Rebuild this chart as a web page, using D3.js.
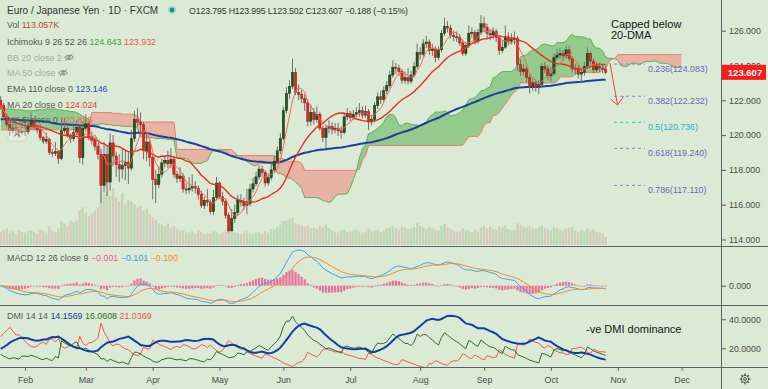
<!DOCTYPE html>
<html>
<head>
<meta charset="utf-8">
<script src="https://cdn.jsdelivr.net/npm/d3@7"></script>
<style>
  body { margin: 0; background: #dbead5; }
  svg { display: block; font-family: "Liberation Sans", Arial, sans-serif; }
  .axis path { display: none; }
  .axis line { stroke: #555; }
  .axis text { fill: #4a4a4a; font-size: 8.8px; font-family: "Liberation Sans", Arial, sans-serif; }
</style>
</head>
<body>
<svg id="chart" width="768" height="389"></svg>
<script>
// EUR/JPY daily, FXCM, 22 Jan 2020 .. 27 Oct 2020 (one value per trading day)
const firstOpen = 122.00;
const closes = [
  121.70,121.05,120.60,120.25,120.40,120.30,120.15,120.25,120.20,120.50,
  120.85,120.45,120.30,119.85,119.65,119.75,119.00,118.95,119.05,118.65,
  120.25,120.40,120.00,119.80,120.15,120.45,118.70,120.40,120.65,119.90,
  119.70,119.35,118.90,117.10,118.90,117.30,119.55,118.80,118.30,118.05,
  118.25,118.45,118.10,119.80,120.90,120.75,120.60,119.10,119.60,118.70,
  117.45,117.15,117.75,118.40,118.55,118.35,118.60,117.75,117.50,117.65,
  116.90,116.85,116.95,117.05,116.95,116.60,115.95,116.25,116.15,115.60,
  116.40,117.25,116.45,116.20,115.40,114.50,115.20,115.55,116.25,116.15,
  115.95,116.05,116.90,117.20,117.60,118.05,117.85,117.25,117.55,118.00,
  118.50,119.10,119.80,121.40,122.40,122.80,123.60,122.45,122.35,122.10,
  121.85,120.80,121.30,120.90,121.20,120.40,119.85,120.40,120.50,120.30,
  120.40,120.25,120.15,121.05,121.25,121.00,121.20,121.30,121.40,121.15,
  121.35,120.75,120.90,121.70,122.20,122.05,122.55,122.85,123.45,123.90,
  123.85,123.65,123.15,123.30,123.10,123.45,123.95,124.75,124.65,125.25,
  125.35,124.85,124.95,124.45,124.90,125.85,126.25,126.15,125.75,125.65,
  125.60,125.30,124.70,125.15,125.85,125.90,125.40,125.90,126.40,126.20,
  125.85,125.75,125.95,125.60,124.85,125.05,125.65,125.40,125.50,125.55,
  124.05,123.65,123.80,123.30,122.80,123.00,122.80,122.90,123.95,123.80,
  123.40,123.55,124.45,124.60,124.70,124.55,124.90,124.40,123.80,123.85,
  123.50,123.60,123.95,124.70,124.25,123.75,123.95,123.85,123.80,123.607
];
const highs = [
  122.25,121.85,121.20,120.75,120.95,121.05,120.45,120.80,120.95,121.05,
  121.30,120.95,120.60,120.65,119.95,120.15,119.85,119.20,119.60,119.15,
  120.95,121.00,120.50,120.10,120.55,120.85,120.55,120.80,121.20,120.80,
  120.20,119.90,119.50,119.20,119.60,119.40,120.10,120.00,119.05,118.90,
  119.20,119.10,119.00,120.30,121.40,121.55,121.30,120.75,120.20,119.75,
  118.85,118.00,118.20,118.65,118.85,119.10,119.25,118.80,117.95,118.15,
  117.80,117.25,117.60,117.75,117.35,117.10,116.80,116.45,116.90,116.30,
  116.85,117.60,117.35,116.75,116.35,115.55,115.75,116.00,116.55,116.60,
  116.40,116.90,117.20,117.55,117.90,118.30,118.25,118.00,117.80,118.35,
  118.80,119.35,120.10,121.65,122.75,123.15,124.40,123.85,122.90,122.60,
  122.35,122.05,121.75,121.55,121.65,121.35,120.55,120.60,120.85,120.75,
  120.70,120.70,120.50,121.30,121.55,121.40,121.45,121.60,121.85,121.65,
  121.70,121.50,121.15,121.90,122.45,122.55,122.80,123.10,123.70,124.30,
  124.15,124.05,123.80,123.65,123.85,123.70,124.20,125.25,125.05,125.50,
  125.70,125.50,125.25,125.10,125.10,126.05,126.75,126.55,126.35,126.00,
  125.95,125.80,125.50,125.35,126.30,126.20,126.05,126.10,126.90,126.80,
  126.40,126.10,126.20,126.10,125.75,125.45,126.30,125.90,125.85,125.95,
  125.70,124.35,124.10,124.00,123.50,123.25,123.20,123.15,124.15,124.20,
  124.00,123.90,124.70,124.95,125.00,124.90,125.15,125.15,124.55,124.10,
  124.05,123.85,124.20,125.05,124.80,124.40,124.20,124.15,124.05,123.995
];
const lows = [
  121.45,120.90,120.45,119.95,120.10,120.05,119.85,120.00,119.95,120.05,
  120.40,120.30,120.10,119.70,119.50,119.50,118.85,118.75,118.80,118.35,
  118.55,120.10,119.85,119.55,119.65,120.00,118.40,118.30,120.20,119.70,
  119.45,119.10,118.60,116.10,116.70,116.50,116.80,118.20,117.60,117.30,
  117.50,117.40,117.20,117.95,119.60,120.45,120.00,118.60,118.50,118.20,
  116.30,116.10,116.95,117.55,118.15,118.10,118.10,117.55,117.25,117.30,
  116.70,116.60,116.65,116.75,116.65,116.30,115.80,115.75,115.90,115.45,
  115.40,116.25,116.30,115.95,115.20,114.40,114.45,114.95,115.40,115.90,
  115.70,115.45,115.90,116.70,117.05,117.45,117.60,117.05,117.10,117.40,
  117.85,118.35,118.90,119.70,121.25,122.10,122.65,122.30,122.00,121.85,
  121.40,120.50,120.55,120.60,120.70,120.25,119.60,119.25,120.10,120.05,
  120.10,119.95,119.80,120.05,120.85,120.80,120.85,121.00,121.05,120.95,
  121.00,120.30,120.55,120.75,121.50,121.80,121.90,122.35,122.70,123.30,
  123.50,123.40,122.95,122.95,122.90,122.95,123.30,123.80,124.35,124.50,
  125.00,124.60,124.55,124.20,124.30,124.75,125.70,125.90,125.55,125.40,
  125.35,125.10,124.55,124.55,125.00,125.60,125.20,125.25,125.75,125.95,
  125.50,125.45,125.50,125.35,124.60,124.70,124.95,125.15,125.20,125.20,
  123.70,123.40,123.45,123.05,122.40,122.55,122.50,122.35,122.75,123.55,
  123.15,123.10,123.40,124.30,124.35,124.25,124.40,124.25,123.60,123.50,
  123.25,123.05,123.40,123.80,124.05,123.55,123.60,123.65,123.55,123.502
];
// volume, thousands
const vols = [
  180,210,230,170,190,160,200,180,170,190, 200,180,160,210,190,170,260,200,180,230,
  330,300,260,340,310,330,480,520,450,400, 430,470,520,760,700,740,680,780,650,600,
  720,560,620,600,560,520,540,480,500,420, 380,350,300,280,260,300,240,260,220,200,
  210,180,170,190,160,200,180,150,170,160, 190,180,150,170,200,230,190,170,160,150,
  170,190,160,150,170,180,160,200,170,220, 210,250,280,330,340,360,380,300,280,260,
  250,270,230,240,220,260,240,280,230,200, 180,170,200,210,180,190,200,210,190,170,
  180,220,190,200,210,180,200,230,240,260, 230,210,250,240,220,230,250,300,260,240,
  220,250,230,210,200,260,290,250,220,200, 180,190,230,210,200,180,220,190,240,260,
  230,250,220,210,260,240,270,220,200,210, 300,280,250,240,260,230,220,250,270,240,
  220,200,250,230,210,200,220,240,250,200, 180,210,190,230,200,220,180,170,160,113.057
];
// leading cloud for the first bars, whose 52-day window reaches before the data
const kumoHeadA = [
  121.55,121.55,121.5,121.5,121.5,121.45,121.45,121.45,121.4,121.4,121.4,121.4,121.45,121.45,
  121.45,121.5,121.5,121.5,121.5,121.45,121.45,121.4,121.4,121.35,121.35,121.3,
  121.2,121.1,121.0,120.9,
  120.6,120.6,120.6,120.65,120.65,120.6,120.6,120.55,120.55,120.55,120.5,120.5,120.5,120.5,120.45,120.4,
  119.9,119.9,119.85,119.85,119.85,119.8,119.8,119.8,119.8,119.75,119.75,119.7
];
const kumoHeadB = [
  120.3,120.3,120.3,120.3,120.3,120.3,120.3,120.3,120.3,120.3,120.3,120.3,120.3,120.3,
  120.3,120.3,120.3,120.3,120.3,120.3,120.3,120.3,120.3,120.3,120.3,120.3,
  120.3,120.35,120.4,120.5,
  121.3,121.3,121.3,121.3,121.3,121.3,121.3,121.25,121.25,121.25,121.2,121.2,121.2,121.2,121.15,121.1,
  120.75,120.75,120.75,120.75,120.75,120.75,120.75,120.75,120.75,120.75,120.75,120.75
];
const ema110Seed = 120.9;
const adxSeed = 19;
const plusDISeed = 17;
const minusDISeed = 30;

const priceTicks = [114, 116, 118, 120, 122, 124, 126];
const fibLevels = [
  { r: '0.236', p: 124.083, c: '#8a7fcf', t: '#6f63bd' },
  { r: '0.382', p: 122.232, c: '#8a7fcf', t: '#6f63bd' },
  { r: '0.5',   p: 120.736, c: '#2cc4d8', t: '#1fb3c8' },
  { r: '0.618', p: 119.240, c: '#8a7fcf', t: '#6f63bd' },
  { r: '0.786', p: 117.110, c: '#8a7fcf', t: '#6f63bd' }
];

const N = closes.length;
const opens = closes.map((c, i) => i ? closes[i - 1] : firstOpen);
const idx = d3.range(N);

// trading days (weekdays) so month ticks land on the first bar of the month
const days = d3.timeDay.range(new Date(2020, 0, 22), new Date(2021, 0, 1)).filter(d => d.getDay() % 6 !== 0);
const fmtMonth = d3.timeFormat('%b');
const monthStarts = d3.range(1, days.length).filter(i => days[i].getMonth() !== days[i - 1].getMonth() && days[i] <= new Date(2020, 11, 2));

// ---- indicators
function sma(arr, n) { return arr.map((_, i) => d3.mean(arr.slice(Math.max(0, i - n + 1), i + 1))); }
function ema(arr, n, seed) { const a = 2 / (n + 1); let e = seed; return arr.map(v => (e = e + a * (v - e))); }
function rma(arr, n, seed) { let s = seed; return arr.map(v => (s = s + (v - s) / n)); }
function midHL(n, i) {
  const s = Math.max(0, i - n + 1);
  return (d3.max(highs.slice(s, i + 1)) + d3.min(lows.slice(s, i + 1))) / 2;
}
const ma5 = sma(closes, 5);
const ma20 = sma(closes, 20);
const ema110 = ema(closes, 110, ema110Seed);

const leadA = [], leadB = [];
for (let i = 0; i < N + 25; i++) {
  if (i < kumoHeadA.length) { leadA.push(kumoHeadA[i]); leadB.push(kumoHeadB[i]); continue; }
  const j = i - 25;
  leadA.push((midHL(9, j) + midHL(26, j)) / 2);
  leadB.push(midHL(52, j));
}
const kumoIdx = d3.range(leadA.length);

const ema12 = ema(closes, 12, closes[0]);
const ema26 = ema(closes, 26, closes[0]);
const macd = ema12.map((v, i) => v - ema26[i]);
const signal = ema(macd, 9, macd[0]);
const hist = macd.map((v, i) => v - signal[i]);

const trA = [], pdm = [], mdm = [];
for (let i = 0; i < N; i++) {
  if (i === 0) { trA.push(highs[0] - lows[0]); pdm.push(0); mdm.push(0); continue; }
  const up = highs[i] - highs[i - 1], dn = lows[i - 1] - lows[i];
  trA.push(Math.max(highs[i] - lows[i], Math.abs(highs[i] - closes[i - 1]), Math.abs(lows[i] - closes[i - 1])));
  pdm.push(up > dn && up > 0 ? up : 0);
  mdm.push(dn > up && dn > 0 ? dn : 0);
}
const trSeed = d3.mean(trA.slice(0, 14));
const trS = rma(trA, 14, trSeed);
const pS = rma(pdm, 14, trSeed * plusDISeed / 100);
const mS = rma(mdm, 14, trSeed * minusDISeed / 100);
const plusDI = pS.map((v, i) => 100 * v / trS[i]);
const minusDI = mS.map((v, i) => 100 * v / trS[i]);
const dx = plusDI.map((p, i) => 100 * Math.abs(p - minusDI[i]) / ((p + minusDI[i]) || 1));
const adx = rma(dx, 14, adxSeed);

// ---- layout
const W = 768, H = 389, plotR = 722;
const paneMain = { top: 0, bottom: 246 };
const paneMacd = { top: 247, bottom: 305 };
const paneDmi = { top: 306, bottom: 367 };

const x = d3.scaleLinear().domain([0, 1]).range([0.68, 3.72]);
const y = d3.scaleLinear().domain([114, 126]).range([239.5, 30.7]);
const yVol = d3.scaleLinear().domain([0, 800]).range([245, 187]);
const macdMax = d3.max([...macd, ...signal]);
const yMacd = d3.scaleLinear().domain([0, macdMax]).range([285.7, 250]);
const yDmi = d3.scaleLinear().domain([20, 40]).range([348.3, 319.3]);

const svg = d3.select('#chart');
svg.append('rect').attr('width', W).attr('height', H).attr('fill', '#dbead5');

const defs = svg.append('defs');
function clip(id, y0, y1) {
  defs.append('clipPath').attr('id', id).append('rect').attr('x', 0).attr('y', y0).attr('width', plotR).attr('height', y1 - y0);
}
clip('cMain', paneMain.top, paneMain.bottom);
clip('cMacd', paneMacd.top, paneMacd.bottom);
clip('cDmi', paneDmi.top, paneDmi.bottom);
// cloud colouring: green where lead A is above lead B, red where below
defs.append('clipPath').attr('id', 'aboveB').append('path')
  .attr('d', d3.area().x(i => x(i)).y0(0).y1(i => y(leadB[i]))(kumoIdx));
defs.append('clipPath').attr('id', 'belowB').append('path')
  .attr('d', d3.area().x(i => x(i)).y0(paneMain.bottom).y1(i => y(leadB[i]))(kumoIdx));

const main = svg.append('g').attr('clip-path', 'url(#cMain)');

// volume
main.append('g').selectAll('rect').data(idx).join('rect')
  .attr('x', i => x(i) - 1.2).attr('width', 2.4)
  .attr('y', i => yVol(vols[i])).attr('height', i => yVol(0) - yVol(vols[i]))
  .attr('fill', i => closes[i] >= opens[i] ? '#bcd8b4' : '#d4cbbd');

// ichimoku cloud
const kumoArea = d3.area().x(i => x(i)).y0(i => y(leadB[i])).y1(i => y(leadA[i]));
const kumo = main.append('g');
kumo.append('g').attr('clip-path', 'url(#aboveB)').append('path').attr('d', kumoArea(kumoIdx)).attr('fill', '#93cb8d');
kumo.append('g').attr('clip-path', 'url(#belowB)').append('path').attr('d', kumoArea(kumoIdx)).attr('fill', '#e8b3a3');
kumo.append('path').attr('d', d3.line().x(i => x(i)).y(i => y(leadA[i]))(kumoIdx))
  .attr('fill', 'none').attr('stroke', '#5fae5a').attr('stroke-width', 1);
kumo.append('path').attr('d', d3.line().x(i => x(i)).y(i => y(leadB[i]))(kumoIdx))
  .attr('fill', 'none').attr('stroke', '#ec7a6c').attr('stroke-width', 1);

// EMA 110
main.append('path').attr('d', d3.line().x(i => x(i)).y(i => y(ema110[i]))(idx))
  .attr('fill', 'none').attr('stroke', '#1d3f9f').attr('stroke-width', 2);

// candles
const candles = main.append('g');
candles.selectAll('line').data(idx).join('line')
  .attr('x1', i => x(i)).attr('x2', i => x(i))
  .attr('y1', i => y(highs[i])).attr('y2', i => y(lows[i]))
  .attr('stroke', '#6f6f6f').attr('stroke-width', 1);
candles.selectAll('rect').data(idx).join('rect')
  .attr('x', i => x(i) - 1.15).attr('width', 2.3)
  .attr('y', i => y(Math.max(opens[i], closes[i])))
  .attr('height', i => Math.max(1, Math.abs(y(opens[i]) - y(closes[i]))))
  .attr('fill', i => closes[i] >= opens[i] ? '#24501c' : '#f51a12')
  .attr('stroke', i => closes[i] >= opens[i] ? '#1a3a14' : '#8c2a20')
  .attr('stroke-width', 0.5);

// MA 20 and MA 5
main.append('path').attr('d', d3.line().x(i => x(i)).y(i => y(ma20[i]))(idx))
  .attr('fill', 'none').attr('stroke', '#ee2a22').attr('stroke-width', 1.4);
main.append('path').attr('d', d3.line().x(i => x(i)).y(i => y(ma5[i]))(idx))
  .attr('fill', 'none').attr('stroke', '#f2685c').attr('stroke-width', 1);

// fibonacci levels
const fib = svg.append('g');
fibLevels.forEach(f => {
  fib.append('line').attr('x1', 614).attr('x2', 645).attr('y1', y(f.p)).attr('y2', y(f.p))
    .attr('stroke', f.c).attr('stroke-width', 1).attr('stroke-dasharray', '3,3');
  fib.append('text').attr('x', 648).attr('y', y(f.p) + 8).attr('font-size', 8.8).attr('fill', f.t)
    .text(`${f.r}(${f.p.toFixed(3)})`);
});

// arrow and notes
svg.append('path').attr('d', 'M610,63 L617.5,105 M610.5,99 L617.5,105 L623.5,96.5')
  .attr('fill', 'none').attr('stroke', '#f2463a').attr('stroke-width', 1);
const note = svg.append('text').attr('font-size', 11).attr('fill', '#151515');
note.append('tspan').attr('x', 611).attr('y', 28).text('Capped below');
note.append('tspan').attr('x', 611).attr('y', 38.5).text('20-DMA');
svg.append('text').attr('x', 586).attr('y', 333).attr('font-size', 11).attr('fill', '#151515').text('-ve DMI dominance');

// ---- MACD pane
const gMacd = svg.append('g').attr('clip-path', 'url(#cMacd)');
gMacd.selectAll('rect').data(idx).join('rect')
  .attr('x', i => x(i) - 1.1).attr('width', 2.2)
  .attr('y', i => Math.min(yMacd(0), yMacd(hist[i])))
  .attr('height', i => Math.max(0.8, Math.abs(yMacd(hist[i]) - yMacd(0))))
  .attr('fill', '#ee5a92').attr('opacity', 0.85);
gMacd.append('path').attr('d', d3.line().x(i => x(i)).y(i => yMacd(macd[i]))(idx))
  .attr('fill', 'none').attr('stroke', '#3aa2f2').attr('stroke-width', 1);
gMacd.append('path').attr('d', d3.line().x(i => x(i)).y(i => yMacd(signal[i]))(idx))
  .attr('fill', 'none').attr('stroke', '#f38a2a').attr('stroke-width', 1);

// ---- DMI pane
const gDmi = svg.append('g').attr('clip-path', 'url(#cDmi)');
[[minusDI, '#f0584c', 1], [plusDI, '#2f6b2b', 1], [adx, '#0f3fa6', 2]].forEach(([s, c, w]) => {
  gDmi.append('path').attr('d', d3.line().x(i => x(i)).y(i => yDmi(s[i]))(idx))
    .attr('fill', 'none').attr('stroke', c).attr('stroke-width', w);
});

// ---- frame
const frame = svg.append('g').attr('stroke', '#5e6166').attr('stroke-width', 1);
frame.append('line').attr('x1', 0).attr('x2', W).attr('y1', 246.5).attr('y2', 246.5);
frame.append('line').attr('x1', 0).attr('x2', W).attr('y1', 305.5).attr('y2', 305.5);
frame.append('line').attr('x1', 0).attr('x2', W).attr('y1', 367.5).attr('y2', 367.5);
frame.append('line').attr('x1', 721.5).attr('x2', 721.5).attr('y1', 0).attr('y2', H);

// ---- axes
svg.append('g').attr('class', 'axis').attr('transform', `translate(${plotR},0)`)
  .call(d3.axisRight(y).tickValues(priceTicks).tickSize(4).tickPadding(3).tickFormat(d3.format('.3f')));
svg.append('g').attr('class', 'axis').attr('transform', `translate(${plotR},0)`)
  .call(d3.axisRight(yMacd).tickValues([0]).tickSize(4).tickPadding(3).tickFormat(d3.format('.3f')));
svg.append('g').attr('class', 'axis').attr('transform', `translate(${plotR},0)`)
  .call(d3.axisRight(yDmi).tickValues([20, 40]).tickSize(4).tickPadding(3).tickFormat(d3.format('.4f')));
const xAxis = svg.append('g').attr('class', 'axis').attr('transform', 'translate(0,367.5)')
  .call(d3.axisBottom(x).tickValues(monthStarts).tickSize(3).tickPadding(6).tickFormat(i => fmtMonth(days[i])));
xAxis.selectAll('text').attr('font-size', 9).attr('fill', '#555');

// last price tag
svg.append('rect').attr('x', 722).attr('y', y(123.607) - 7.5).attr('width', 44).attr('height', 15).attr('fill', '#ff1a1a');
svg.append('text').attr('x', 745).attr('y', y(123.607) + 3.5).attr('text-anchor', 'middle')
  .attr('font-size', 9.5).attr('font-weight', 'bold').attr('fill', '#fff').text('123.607');

// gear icon
const gear = svg.append('g').attr('transform', 'translate(745,379)').attr('fill', 'none').attr('stroke', '#555').attr('stroke-width', 1);
gear.append('circle').attr('r', 3.6);
gear.append('circle').attr('r', 1.4);
d3.range(8).forEach(k => {
  const a = k * Math.PI / 4;
  gear.append('line').attr('x1', Math.cos(a) * 3.6).attr('y1', Math.sin(a) * 3.6)
    .attr('x2', Math.cos(a) * 5.4).attr('y2', Math.sin(a) * 5.4).attr('stroke-width', 1.3);
});

// ---- legends
function legend(yb, parts, size) {
  const t = svg.append('text').attr('x', 7).attr('y', yb).attr('font-size', size || 8.9);
  parts.forEach(([s, c]) => t.append('tspan').attr('fill', c).text(s));
  return t;
}
legend(13.5, [['Euro / Japanese Yen · 1D · FXCM', '#333']], 10);
svg.append('circle').attr('cx', 172).attr('cy', 10).attr('r', 4.2).attr('fill', 'rgba(8,153,129,0.22)');
svg.append('circle').attr('cx', 172).attr('cy', 10).attr('r', 2.4).attr('fill', '#0a9a80');
svg.append('text').attr('x', 189).attr('y', 13.5).attr('font-size', 8.8).attr('fill', '#333')
  .attr('textLength', 219).attr('lengthAdjust', 'spacing')
  .text('O123.795  H123.995  L123.502  C123.607  −0.188 (−0.15%)');

legend(28.2, [['Vol ', '#555'], ['113.057K', '#b8443c']]);
legend(45, [['Ichimoku 9 26 52 26 ', '#555'], ['124.643 ', '#3f9f45'], ['123.932', '#ef5350']]);
legend(60.5, [['BB 20 close 2', '#a3aba1']]);
legend(76, [['MA 50 close', '#a3aba1']]);
legend(92.2, [['EMA 110 close 0 ', '#555'], ['123.146', '#1e4fa8']]);
legend(108.2, [['MA 20 close 0 ', '#555'], ['124.024', '#ee3a32']]);
legend(123.2, [['MA 5 close 0 ', '#555'], ['123.895', '#f06a5e']]);
legend(260.8, [['MACD 12 26 close 9 ', '#555'], ['−0.001 ', '#ee5a92'], ['−0.101 ', '#2f9ef0'], ['−0.100', '#f0882a']]);
legend(319.3, [['DMI 14 14 ', '#555'], ['14.1569 ', '#173fa0'], ['16.0608 ', '#2f6b2b'], ['21.0369', '#ef5048']]);

// hidden-indicator eye icons
function eyeOff(cx, cy) {
  const g = svg.append('g').attr('transform', `translate(${cx},${cy})`).attr('fill', 'none').attr('stroke', '#7d847b').attr('stroke-width', 0.9);
  g.append('path').attr('d', 'M-4.5,0 Q0,-4.5 4.5,0 Q0,4.5 -4.5,0 Z');
  g.append('circle').attr('r', 1.3);
  g.append('line').attr('x1', -3.5).attr('y1', 3.5).attr('x2', 3.5).attr('y2', -3.5);
}
eyeOff(69, 57.3);
eyeOff(63, 72.8);

// collapse button
svg.append('rect').attr('x', 8).attr('y', 128).attr('width', 18).attr('height', 13).attr('rx', 2)
  .attr('fill', 'rgba(255,255,255,0.3)').attr('stroke', 'rgba(0,0,0,0.08)');
svg.append('path').attr('d', 'M14,136.5 L17,133.5 L20,136.5').attr('fill', 'none').attr('stroke', '#444').attr('stroke-width', 1);
</script>
</body>
</html>
